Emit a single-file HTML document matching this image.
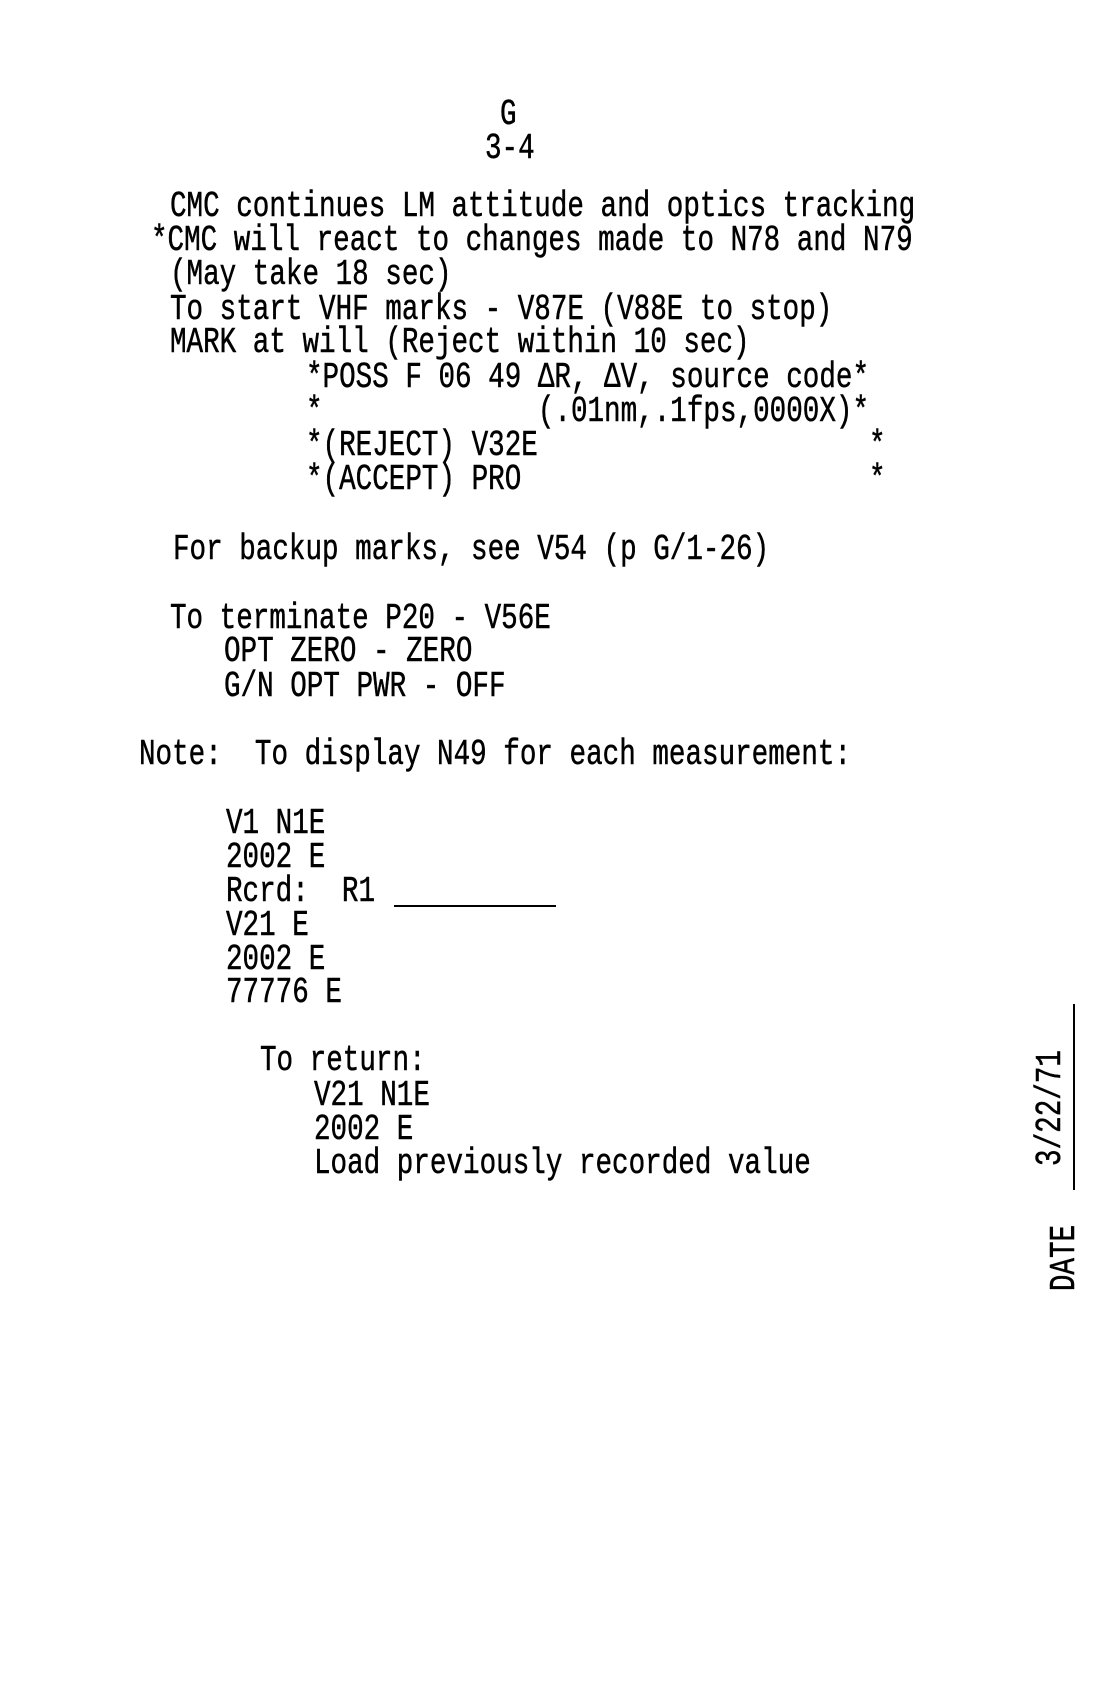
<!DOCTYPE html>
<html><head><meta charset="utf-8"><style>
html,body{margin:0;padding:0;background:#fff;}
body{width:1106px;height:1686px;position:relative;overflow:hidden;font-family:"Liberation Mono",monospace;color:#000;}
.l{position:absolute;white-space:pre;font-size:27.6px;line-height:34px;height:34px;transform:scaleY(1.3);transform-origin:left center;-webkit-text-stroke:0.4px #000;}
.r{position:absolute;white-space:pre;font-size:27.6px;line-height:34px;transform:translate(-50%,-50%) rotate(-90deg) scaleY(1.3);-webkit-text-stroke:0.4px #000;}
</style></head><body>
<div class="l" style="left:500px;top:99px">G</div>
<div class="l" style="left:485px;top:133px">3-4</div>
<div class="l" style="left:170px;top:191px">CMC continues LM attitude and optics tracking</div>
<div class="l" style="left:151px;top:225px">*CMC will react to changes made to N78 and N79</div>
<div class="l" style="left:170px;top:259px">(May take 18 sec)</div>
<div class="l" style="left:170px;top:294px">To start VHF marks - V87E (V88E to stop)</div>
<div class="l" style="left:170px;top:327px">MARK at will (Reject within 10 sec)</div>
<div class="l" style="left:306px;top:362px">*POSS F 06 49 ΔR, ΔV, source code*</div>
<div class="l" style="left:306px;top:396px">*             (.01nm,.1fps,0000X)*</div>
<div class="l" style="left:306px;top:430px">*(REJECT) V32E                    *</div>
<div class="l" style="left:306px;top:464px">*(ACCEPT) PRO                     *</div>
<div class="l" style="left:173px;top:534px">For backup marks, see V54 (p G/1-26)</div>
<div class="l" style="left:170px;top:603px">To terminate P20 - V56E</div>
<div class="l" style="left:224px;top:636px">OPT ZERO - ZERO</div>
<div class="l" style="left:224px;top:671px">G/N OPT PWR - OFF</div>
<div class="l" style="left:139px;top:739px">Note:  To display N49 for each measurement:</div>
<div class="l" style="left:226px;top:808px">V1 N1E</div>
<div class="l" style="left:226px;top:842px">2002 E</div>
<div class="l" style="left:226px;top:876px">Rcrd:  R1</div>
<div style="position:absolute;left:394px;top:905px;width:162px;height:2px;background:#000"></div>
<div class="l" style="left:226px;top:910px">V21 E</div>
<div class="l" style="left:226px;top:944px">2002 E</div>
<div class="l" style="left:226px;top:977px">77776 E</div>
<div class="l" style="left:260px;top:1045px">To return:</div>
<div class="l" style="left:314px;top:1080px">V21 N1E</div>
<div class="l" style="left:314px;top:1114px">2002 E</div>
<div class="l" style="left:314px;top:1148px">Load previously recorded value</div>
<div class="r" style="left:1052px;top:1108px">3/22/71</div>
<div class="r" style="left:1066px;top:1258px">DATE</div>
<div style="position:absolute;left:1073px;top:1004px;width:2px;height:186px;background:#000"></div>
</body></html>
